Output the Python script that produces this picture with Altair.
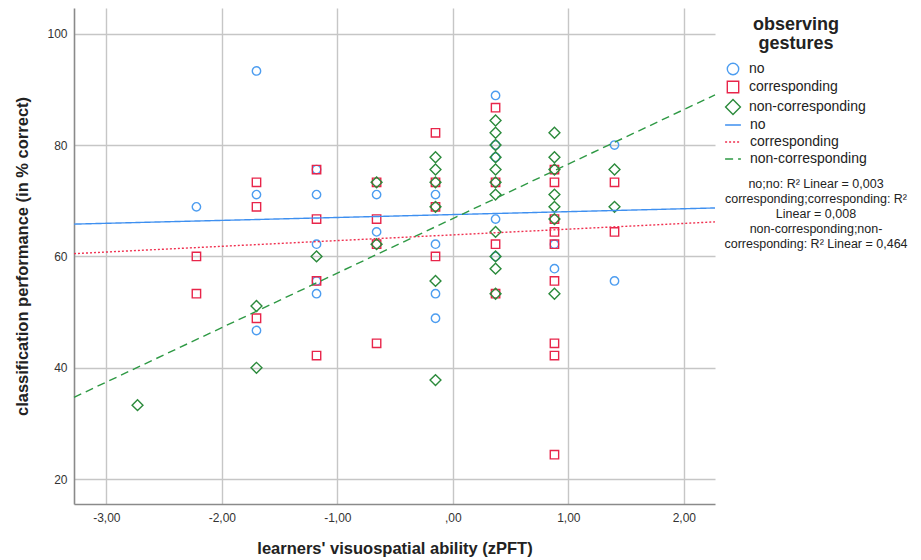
import altair as alt
import pandas as pd

# ---- data (score in % correct, zPFT on x) ----
groups = ["no", "corresponding", "non-corresponding"]

no_x = [-2.22, -1.70, -1.70, -1.70, -1.18, -1.18, -1.18, -1.18, -1.18,
        -0.66, -0.66, -0.15, -0.15, -0.15, -0.15,
        0.37, 0.37, 0.37, 0.37, 0.37, 0.88, 0.88, 1.40, 1.40]
no_y = [68.9, 93.3, 71.1, 46.7, 75.6, 71.1, 62.2, 55.6, 53.3,
        71.1, 64.4, 71.1, 62.2, 53.3, 48.9,
        88.9, 80.0, 77.8, 66.7, 60.0, 62.2, 57.8, 80.0, 55.6]

corr_x = [-2.22, -2.22, -1.70, -1.70, -1.70, -1.18, -1.18, -1.18, -1.18,
          -0.66, -0.66, -0.66, -0.66, -0.15, -0.15, -0.15, -0.15,
          0.37, 0.37, 0.37, 0.37,
          0.88, 0.88, 0.88, 0.88, 0.88, 0.88, 0.88, 0.88, 0.88,
          1.40, 1.40]
corr_y = [60.0, 53.3, 73.3, 68.9, 48.9, 75.6, 66.7, 55.6, 42.2,
          73.3, 66.7, 62.2, 44.4, 82.2, 73.3, 68.9, 60.0,
          86.7, 73.3, 62.2, 53.3,
          75.6, 73.3, 66.7, 64.4, 62.2, 55.6, 44.4, 42.2, 24.4,
          73.3, 64.4]

non_x = [-2.73, -1.70, -1.70, -1.18, -0.66, -0.66,
         -0.15, -0.15, -0.15, -0.15, -0.15, -0.15,
         0.37, 0.37, 0.37, 0.37, 0.37, 0.37, 0.37, 0.37, 0.37, 0.37, 0.37,
         0.88, 0.88, 0.88, 0.88, 0.88, 0.88, 0.88,
         1.40, 1.40]
non_y = [33.3, 51.1, 40.0, 60.0, 73.3, 62.2,
         77.8, 75.6, 73.3, 68.9, 55.6, 37.8,
         84.4, 82.2, 80.0, 77.8, 75.6, 73.3, 71.1, 64.4, 60.0, 57.8, 53.3,
         82.2, 77.8, 75.6, 71.1, 68.9, 66.7, 53.3,
         75.6, 68.9]

# fit lines read at the left and right edges of the plot
fit_x_ends = [-3.28, 2.27]
fit_no_y = [65.8, 68.7]
fit_corr_y = [60.5, 66.2]
fit_non_y = [34.7, 89.0]

r2_lines = ["no;no: R\u00b2 Linear = 0,003",
            "corresponding;corresponding: R\u00b2",
            "Linear = 0,008",
            "non-corresponding;non-",
            "corresponding: R\u00b2 Linear = 0,464"]

x_ticks = [-3, -2, -1, 0, 1, 2]
y_ticks = [20, 40, 60, 80, 100]
x_domain = [-3.28, 2.27]
y_domain = [15.55, 104.6]

point_colors = ["#4d9df0", "#e8254a", "#2b8a3b"]
# circle, square, and a slightly larger diamond (as in the reference)
point_shapes = ["circle", "square", "M0,-1.3L1.3,0L0,1.3L-1.3,0Z"]
line_colors = ["#3f90f0", "#f0304f", "#2e9944"]
FONT = "Liberation Sans"

# ---- tables ----
pts = pd.concat([
    pd.DataFrame({"x": no_x, "y": no_y, "group": "no", "order": 0}),
    pd.DataFrame({"x": corr_x, "y": corr_y, "group": "corresponding", "order": 1}),
    pd.DataFrame({"x": non_x, "y": non_y, "group": "non-corresponding", "order": 2}),
], ignore_index=True)

fits = pd.concat([
    pd.DataFrame({"x": fit_x_ends, "y": fit_no_y, "fit": "no"}),
    pd.DataFrame({"x": fit_x_ends, "y": fit_corr_y, "fit": "corresponding"}),
    pd.DataFrame({"x": fit_x_ends, "y": fit_non_y, "fit": "non-corresponding"}),
], ignore_index=True)

x_enc = alt.X("x:Q", scale=alt.Scale(domain=x_domain, nice=False, zero=False),
              axis=alt.Axis(values=x_ticks,
                            labelExpr="datum.value == 0 ? ',00' : replace(replace(format(datum.value, '.2f'), '.', ','), '\u2212', '-')",
                            title="learners' visuospatial ability (zPFT)"))
y_enc = alt.Y("y:Q", scale=alt.Scale(domain=y_domain, nice=False, zero=False),
              axis=alt.Axis(values=y_ticks, title="classification performance (in % correct)"))

points = alt.Chart(pts).mark_point(filled=False, size=70, strokeWidth=1.4, opacity=1).encode(
    x=x_enc, y=y_enc,
    color=alt.Color("group:N", scale=alt.Scale(domain=groups, range=point_colors),
                    legend=alt.Legend(title=["observing", "gestures"], orient="none",
                                      legendX=652, legendY=8, titleAnchor="middle",
                                      titleFontSize=18, titleFontWeight="bold",
                                      titleLineHeight=19, titlePadding=9,
                                      symbolSize=130, symbolStrokeWidth=1.4,
                                      labelFontSize=14, labelOffset=9, rowPadding=0)),
    shape=alt.Shape("group:N", scale=alt.Scale(domain=groups, range=point_shapes)),
    order="order:Q",
)

lines = alt.Chart(fits).mark_line(strokeWidth=1.4).encode(
    x="x:Q", y="y:Q",
    color=alt.Color("fit:N", scale=alt.Scale(domain=groups, range=line_colors),
                    legend=alt.Legend(title=None, orient="none", legendX=650, legendY=108,
                                      symbolType="stroke", symbolSize=250,
                                      symbolStrokeWidth=1.5, labelFontSize=14,
                                      labelOffset=8, rowPadding=1)),
    strokeDash=alt.StrokeDash("fit:N", scale=alt.Scale(domain=groups, range=[[1, 0], [2, 2], [8, 5]])),
    detail="fit:N",
)

note = alt.Chart(pd.DataFrame({"k": [0]})).mark_text(
    font=FONT, fontSize=12.5, align="center", baseline="top", lineHeight=15, color="#222"
).encode(x=alt.value(742), y=alt.value(170), text=alt.value(r2_lines))

chart = alt.layer(points, lines, note).resolve_scale(
    color="independent", shape="independent", strokeDash="independent"
).properties(
    width=641, height=496,
    autosize=alt.AutoSizeParams(type="none"),
    padding={"left": 66, "top": 0, "right": 198, "bottom": 56},
).configure_view(stroke=None).configure_axis(
    grid=True, gridColor="#c6c6c6", gridWidth=1.4, ticks=False,
    domainColor="#8a8a8a", domainWidth=1.6,
    labelFont=FONT, labelFontSize=12, labelColor="#333",
    titleFont=FONT, titleFontSize=16.5, titleFontWeight="bold", titleColor="#222",
).configure_axisX(labelPadding=8, titlePadding=17).configure_axisY(
    labelPadding=7, titlePadding=16
).configure_legend(labelFont=FONT, titleFont=FONT, labelColor="#222", titleColor="#222")

chart.save("out.html", embed_options={"renderer": "svg", "actions": False})
